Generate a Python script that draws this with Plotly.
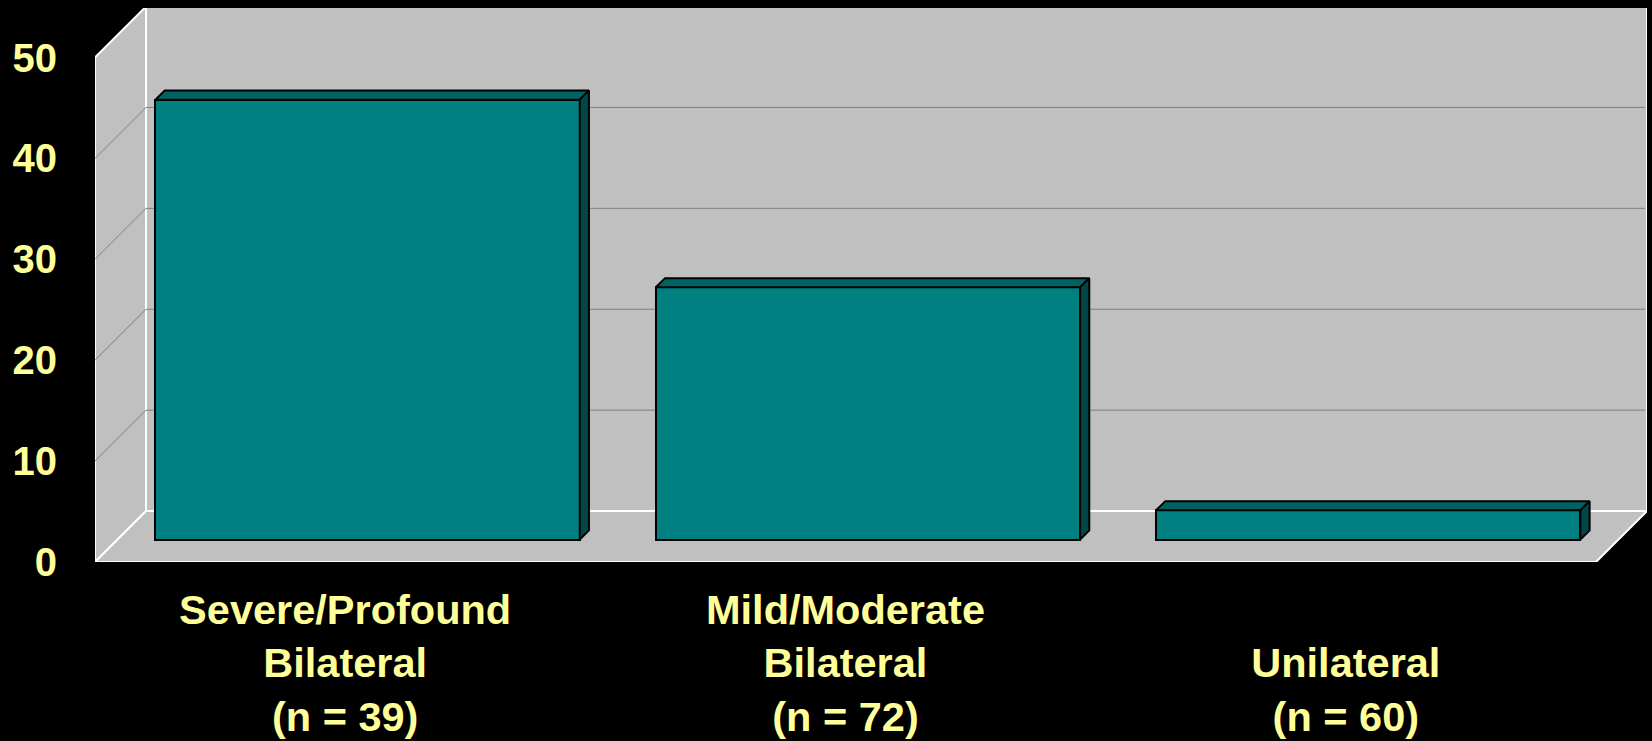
import plotly.graph_objects as go

# Percentage of children in each hearing-loss group
categories = ["Severe/Profound<br>Bilateral<br>(n = 39)",
              "Mild/Moderate<br>Bilateral<br>(n = 72)",
              "<br>Unilateral<br>(n = 60)"]
values = [43.6, 25.0, 2.9]
y_ticks = [0, 10, 20, 30, 40, 50]

# Oblique "3-D" geometry expressed in axis units
DEPTH_X = 0.102        # horizontal shift of the back wall
DEPTH_Y = 5.05         # vertical shift of the back wall
BAR_FRONT = 0.44       # bar front face position, fraction of wall depth
BAR_BACK = 0.62        # bar back face position
BAR_WIDTH = 0.848
Y_TOP = 50

WALL = "#C0C0C0"
EDGE = "white"
GRID = "#7F7F7F"
FRONT = "#008080"
TOP = "#006363"
SIDE = "#004848"
TEXT = "#FFFF99"

n = len(values)
x_left, x_right = -0.5, n - 0.5

fig = go.Figure()

shapes = []


def poly(pts):
    return "M " + " L ".join(f"{x},{y}" for x, y in pts) + " Z"


# side wall, floor and back wall
shapes.append(dict(type="path", layer="below", fillcolor=WALL,
                   line=dict(color=EDGE, width=2),
                   path=poly([(x_left, 0), (x_left + DEPTH_X, DEPTH_Y),
                              (x_left + DEPTH_X, Y_TOP + DEPTH_Y), (x_left, Y_TOP)])))
shapes.append(dict(type="path", layer="below", fillcolor=WALL,
                   line=dict(color=EDGE, width=2),
                   path=poly([(x_left, 0), (x_right, 0),
                              (x_right + DEPTH_X, DEPTH_Y), (x_left + DEPTH_X, DEPTH_Y)])))
shapes.append(dict(type="path", layer="below", fillcolor=WALL,
                   line=dict(color=EDGE, width=2),
                   path=poly([(x_left + DEPTH_X, DEPTH_Y), (x_right + DEPTH_X, DEPTH_Y),
                              (x_right + DEPTH_X, Y_TOP + DEPTH_Y),
                              (x_left + DEPTH_X, Y_TOP + DEPTH_Y)])))

# gridlines on side and back walls
for v in y_ticks[1:-1]:
    shapes.append(dict(type="line", layer="below", line=dict(color=GRID, width=1),
                       x0=x_left, y0=v, x1=x_left + DEPTH_X, y1=v + DEPTH_Y))
    shapes.append(dict(type="line", layer="below", line=dict(color=GRID, width=1),
                       x0=x_left + DEPTH_X, y0=v + DEPTH_Y,
                       x1=x_right + DEPTH_X - 0.004, y1=v + DEPTH_Y))

fx = BAR_FRONT * DEPTH_X
fy = BAR_FRONT * DEPTH_Y
ddx = (BAR_BACK - BAR_FRONT) * DEPTH_X
ddy = (BAR_BACK - BAR_FRONT) * DEPTH_Y

# bar front faces
fig.add_trace(go.Bar(
    x=[i + fx for i in range(n)], y=values, base=fy, width=BAR_WIDTH,
    marker=dict(color=FRONT, line=dict(color="black", width=2)),
    hoverinfo="skip", showlegend=False))

# bar tops and right sides
tx, ty, sx, sy = [], [], [], []
for i, v in enumerate(values):
    x0 = i + fx - BAR_WIDTH / 2
    x1 = i + fx + BAR_WIDTH / 2
    top = v + fy
    tx += [x0, x1, x1 + ddx, x0 + ddx, x0, None]
    ty += [top, top, top + ddy, top + ddy, top, None]
    sx += [x1, x1 + ddx, x1 + ddx, x1, x1, None]
    sy += [fy, fy + ddy, top + ddy, top, fy, None]

fig.add_trace(go.Scatter(x=tx, y=ty, mode="lines", fill="toself", fillcolor=TOP,
                         line=dict(color="black", width=2), hoverinfo="skip",
                         showlegend=False))
fig.add_trace(go.Scatter(x=sx, y=sy, mode="lines", fill="toself", fillcolor=SIDE,
                         line=dict(color="black", width=2), hoverinfo="skip",
                         showlegend=False))

font = dict(family="Liberation Sans, Arial, sans-serif", color=TEXT, weight="bold")

fig.update_layout(
    width=1652, height=741,
    margin=dict(l=95, r=5, t=8, b=179),
    paper_bgcolor="black", plot_bgcolor="black",
    shapes=shapes, bargap=0,
    xaxis=dict(range=[x_left, x_left + 1552 / 500.33], tickvals=list(range(n)),
               ticktext=categories, showgrid=False, zeroline=False, showline=False,
               ticks="", ticklabelstandoff=19, tickfont=dict(size=41.5, **font),
               automargin=False, fixedrange=True),
    yaxis=dict(range=[0, 554 / 10.09], tickvals=y_ticks, showgrid=False,
               zeroline=False, showline=False, ticks="", ticklabelstandoff=37,
               tickfont=dict(size=40, **font), automargin=False, fixedrange=True),
)

fig.write_html("out.html")
